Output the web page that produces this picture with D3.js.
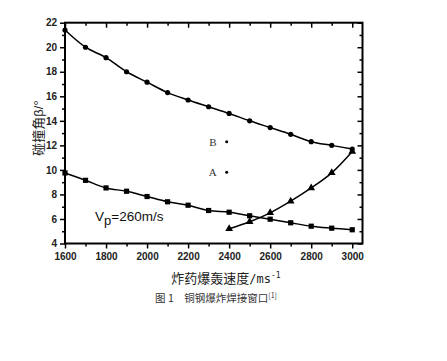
<!DOCTYPE html>
<html><head><meta charset="utf-8">
<script src="https://cdn.jsdelivr.net/npm/d3@7/dist/d3.min.js"></script>
<style>body{margin:0;background:#fff}svg{display:block}</style>
</head><body>
<script>
const velocity = [1600,1700,1800,1900,2000,2100,2200,2300,2400,2500,2600,2700,2800,2900,3000];
const upperLimit = [21.4,20.0,19.15,18.0,17.15,16.3,15.7,15.15,14.6,14.0,13.45,12.9,12.3,12.0,11.7];
const lowerLimit = [9.75,9.15,8.53,8.26,7.83,7.4,7.12,6.69,6.55,6.26,5.98,5.69,5.41,5.25,5.12];
const velocityTri = [2400,2500,2600,2700,2800,2900,3000];
const triLimit = [5.2,5.77,6.5,7.45,8.53,9.76,11.5];
const pointLabels = ["B","A"];
const pointX = [2388,2388];
const pointY = [12.3,9.8];
const xTicks = [1600,1800,2000,2200,2400,2600,2800,3000];
const yTicks = [4,6,8,10,12,14,16,18,20,22];

const W=447,H=361;
const svg=d3.select("body").append("svg").attr("width",W).attr("height",H);
const L=65,R=362.5,T=22.7,B=243.5;
const x=d3.scaleLinear().domain([1600,3050]).range([L,R]);
const y=d3.scaleLinear().domain([4,22]).range([B,T]);
const tickFont='"Liberation Sans", Arial, sans-serif';

const minorX=d3.range(1600,3001,100), minorY=d3.range(4,22.01,1);
// bottom axis
const gx=svg.append("g").attr("transform",`translate(0,${B})`)
 .call(d3.axisBottom(x).tickValues(xTicks).tickFormat(d3.format("d")).tickSize(5).tickPadding(4));
gx.append("g").call(d3.axisBottom(x).tickValues(minorX.filter(v=>!xTicks.includes(v))).tickFormat("").tickSize(3));
// left axis
const gy=svg.append("g").attr("transform",`translate(${L},0)`)
 .call(d3.axisLeft(y).tickValues(yTicks).tickSize(5).tickPadding(3));
gy.append("g").call(d3.axisLeft(y).tickValues(minorY.filter(v=>!yTicks.includes(v))).tickFormat("").tickSize(3));
// top axis inward
const gt=svg.append("g").attr("transform",`translate(0,${T})`)
 .call(d3.axisBottom(x).tickValues(xTicks).tickFormat("").tickSize(5));
gt.append("g").call(d3.axisBottom(x).tickValues(minorX.filter(v=>!xTicks.includes(v))).tickFormat("").tickSize(3));
// right axis inward
const gr=svg.append("g").attr("transform",`translate(${R},0)`)
 .call(d3.axisLeft(y).tickValues(yTicks).tickFormat("").tickSize(5));
gr.append("g").call(d3.axisLeft(y).tickValues(minorY.filter(v=>!yTicks.includes(v))).tickFormat("").tickSize(3));
svg.selectAll(".domain").remove();
svg.selectAll(".tick line").attr("stroke","#000").attr("stroke-width",1.5);
svg.selectAll(".tick text").attr("font-family",tickFont).attr("font-size",10).attr("font-weight","bold").attr("fill","#222");
// frame
svg.append("rect").attr("x",L).attr("y",T).attr("width",R-L).attr("height",B-T)
 .attr("fill","none").attr("stroke","#000").attr("stroke-width",2);

const line=d3.line().x(d=>x(d[0])).y(d=>y(d[1])).curve(d3.curveCatmullRom);
const up=velocity.map((v,i)=>[v,upperLimit[i]]);
const lo=velocity.map((v,i)=>[v,lowerLimit[i]]);
const tr=velocityTri.map((v,i)=>[v,triLimit[i]]);
[up,lo,tr].forEach(s=>svg.append("path").datum(s).attr("d",line).attr("fill","none").attr("stroke","#000").attr("stroke-width",1.5));
svg.selectAll(".c").data(up).enter().append("circle").attr("cx",d=>x(d[0])).attr("cy",d=>y(d[1])).attr("r",2.6).attr("fill","#000");
svg.selectAll(".s").data(lo).enter().append("rect").attr("x",d=>x(d[0])-2.6).attr("y",d=>y(d[1])-2.6).attr("width",5.2).attr("height",5.2).attr("fill","#000");
svg.selectAll(".t").data(tr).enter().append("path").attr("transform",d=>`translate(${x(d[0])},${y(d[1])})`)
 .attr("d",d3.symbol(d3.symbolTriangle,26)).attr("fill","#000");

// A, B points
pointLabels.forEach((lab,i)=>{
  svg.append("circle").attr("cx",x(pointX[i])).attr("cy",y(pointY[i])).attr("r",1.5).attr("fill","#000");
  svg.append("text").attr("x",x(pointX[i])-10).attr("y",y(pointY[i])+4).attr("text-anchor","end")
   .attr("font-family",'"Liberation Serif","Times New Roman",serif').attr("font-size",11).attr("fill","#333").text(lab);
});

// Vp label
const vt=svg.append("text").attr("x",95).attr("y",221).attr("font-family",tickFont).attr("font-size",13.5).attr("fill","#111");
vt.append("tspan").text("V");
vt.append("tspan").attr("dy",4).attr("font-size",13).text("p");
vt.append("tspan").attr("dy",-4).text("=260m/s");

// axis titles
const cjk='"Noto Sans CJK SC", sans-serif';
const yl=svg.append("text").attr("transform","translate(43,128) rotate(-90)").attr("text-anchor","middle")
 .attr("font-family",cjk).attr("font-size",13).attr("fill","#222");
yl.append("tspan").text("碰撞角");
yl.append("tspan").attr("font-family",tickFont).text("β/°");
const xl=svg.append("text").attr("x",226).attr("y",283).attr("text-anchor","middle").attr("font-family",cjk).attr("font-size",13).attr("fill","#222");
xl.append("tspan").text("炸药爆轰速度");
xl.append("tspan").attr("font-family",'"DejaVu Sans Mono",monospace').attr("font-size",12).text("/ms");
xl.append("tspan").attr("dy",-5).attr("font-size",8).attr("font-family",'"DejaVu Sans Mono",monospace').text("-1");
const cap=svg.append("text").attr("x",216).attr("y",302).attr("text-anchor","middle").attr("font-family",cjk).attr("font-size",10.5).attr("fill","#333");
cap.append("tspan").text("图 1　铜钢爆炸焊接窗口");
cap.append("tspan").attr("dy",-4).attr("font-size",7).text("[1]");
</script>
</body></html>
